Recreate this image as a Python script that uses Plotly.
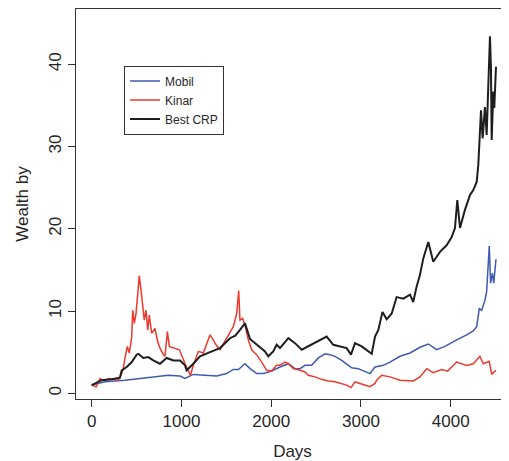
import plotly.graph_objects as go

# ---- data ----
mobil_days = [0, 148, 371, 594, 854, 984, 1040, 1132, 1355, 1392, 1504, 1578, 1635, 1708, 1764,
              1838, 1913, 2005, 2098, 2191, 2265, 2321, 2377, 2451, 2525, 2600, 2656, 2711, 2786,
              2841, 2897, 2971, 3045, 3101, 3157, 3249, 3324, 3435, 3547, 3658, 3751, 3844, 3937,
              3985, 4067, 4178, 4252, 4290, 4319, 4345, 4382, 4401, 4430, 4445, 4465, 4480, 4505]
mobil_vals = [1.0, 1.4, 1.6, 1.9, 2.2, 2.1, 1.8, 2.3, 2.1, 2.1, 2.4, 2.9, 2.9, 3.6, 3.0,
              2.4, 2.4, 2.7, 3.2, 3.6, 3.0, 3.0, 3.4, 3.4, 4.3, 4.8, 4.7, 4.5, 4.0,
              3.6, 3.1, 3.0, 2.7, 2.4, 3.2, 3.4, 3.8, 4.5, 4.9, 5.6, 6.0, 5.3, 5.7,
              6.0, 6.5, 7.1, 7.6, 8.1, 10.3, 10.1, 11.3, 12.4, 17.9, 13.4, 14.6, 13.4, 16.3]

kinar_days = [0, 50, 92, 130, 200, 297, 334, 352, 371, 397, 419, 446, 457, 475, 494, 512, 530, 549,
              568, 586, 605, 624, 642, 668, 705, 735, 761, 798, 817, 843, 865, 910, 977, 1040, 1077,
              1100, 1132, 1188, 1244, 1318, 1355, 1385, 1430, 1485, 1541, 1578, 1616, 1638, 1652,
              1682, 1708, 1745, 1783, 1838, 1894, 1950, 2005, 2060, 2097, 2154, 2191, 2247, 2321,
              2377, 2414, 2488, 2563, 2636, 2711, 2786, 2841, 2889, 2934, 2989, 3045, 3101, 3157,
              3175, 3231, 3324, 3435, 3583, 3658, 3733, 3806, 3900, 3966, 4067, 4178, 4252, 4326,
              4363, 4430, 4457, 4505]
kinar_vals = [1.0, 0.8, 1.8, 1.6, 1.8, 1.6, 2.4, 3.0, 4.3, 5.7, 4.9, 6.9, 10.1, 8.5, 9.7, 12.6, 14.3, 12.6,
              10.9, 8.9, 10.1, 7.7, 9.5, 7.3, 7.9, 6.3, 5.5, 4.7, 4.5, 7.5, 5.7, 5.5, 5.3, 3.6, 2.6,
              2.2, 3.4, 5.1, 4.9, 7.1, 6.5, 5.9, 5.3, 6.3, 7.3, 8.1, 9.7, 12.5, 8.9,
              9.1, 8.3, 6.5, 5.3, 4.7, 3.8, 2.8, 2.7, 3.4, 3.4, 3.8, 3.6, 3.0, 2.8,
              2.6, 2.2, 2.0, 1.7, 1.5, 1.4, 1.2, 1.0, 0.7, 1.4, 1.2, 1.0, 0.8, 1.2,
              1.6, 2.2, 2.0, 1.6, 1.5, 2.0, 3.0, 2.5, 2.9, 2.7, 3.8, 3.4, 3.6, 4.5,
              3.6, 3.9, 2.3, 2.8]

crp_days = [0, 111, 223, 315, 334, 390, 446, 501, 520, 575, 631, 686, 761, 835, 910, 984, 1040,
            1058, 1132, 1207, 1318, 1430, 1541, 1600, 1652, 1708, 1764, 1838, 1931, 1968, 2023,
            2061, 2098, 2191, 2265, 2340, 2414, 2488, 2544, 2618, 2692, 2767, 2841, 2889, 2934,
            3008, 3082, 3120, 3157, 3194, 3240, 3287, 3343, 3398, 3472, 3547, 3583, 3621, 3658,
            3695, 3751, 3806, 3881, 3955, 4011, 4048, 4074, 4104, 4159, 4215, 4252, 4290, 4308,
            4326, 4338, 4356, 4382, 4401, 4427, 4438, 4449, 4457, 4475, 4486, 4505]
crp_vals = [1.0, 1.6, 1.7, 1.9, 2.8, 3.2, 3.8, 4.7, 4.8, 4.3, 4.4, 4.0, 3.6, 4.3, 4.0, 4.0, 3.4,
            2.8, 3.6, 4.5, 5.0, 5.5, 6.7, 7.0, 7.7, 8.5, 6.6, 5.9, 5.1, 4.5, 5.1,
            5.9, 5.5, 6.7, 6.1, 5.3, 5.7, 6.1, 6.5, 6.9, 5.9, 5.7, 5.5, 4.7, 6.1,
            5.7, 5.1, 4.8, 6.9, 7.7, 9.9, 9.0, 9.7, 11.7, 11.5, 12.0, 11.1, 13.0, 14.4,
            16.4, 18.4, 16.0, 17.2, 18.0, 19.0, 20.1, 23.5, 20.1, 22.3, 24.1, 24.7, 25.7, 27.8,
            31.4, 34.4, 31.0, 34.8, 31.4, 38.7, 43.4, 39.5, 30.8, 36.7, 34.7, 39.7]

x_ticks = [0, 1000, 2000, 3000, 4000]
y_ticks = [0, 10, 20, 30, 40]

FONT = "Liberation Sans, Arial, Helvetica, sans-serif"
TXT = "#262626"

fig = go.Figure()
fig.add_trace(go.Scatter(x=mobil_days, y=mobil_vals, mode="lines", name="Mobil",
                         line=dict(color="#3F5BB0", width=1.5)))
fig.add_trace(go.Scatter(x=kinar_days, y=kinar_vals, mode="lines", name="Kinar",
                         line=dict(color="#EC3A2E", width=1.5)))
fig.add_trace(go.Scatter(x=crp_days, y=crp_vals, mode="lines", name="Best CRP",
                         line=dict(color="#1E1E1E", width=2.0)))

# the page body has an 8px margin, so the figure is shifted by (8, 8)
fig.update_layout(
    width=501, height=453,
    margin=dict(l=68, r=0, t=1, b=62),
    paper_bgcolor="white", plot_bgcolor="white",
    font=dict(family=FONT, size=17, color=TXT),
    showlegend=True,
    legend=dict(x=0.111, y=0.855, xanchor="left", yanchor="top",
                bordercolor="#333333", borderwidth=1, bgcolor="white",
                font=dict(size=12, color=TXT), tracegroupgap=0,
                entrywidth=86, entrywidthmode="pixels"),
)
fig.update_xaxes(
    range=[-175, 4650], tickvals=x_ticks, ticktext=[str(v) for v in x_ticks],
    showgrid=False, zeroline=False, showline=True, linecolor="#333333", linewidth=1,
    mirror=True, ticks="outside", ticklen=7, tickcolor="#333333",
    title=dict(text="Days", font=dict(size=17), standoff=14),
)
fig.update_yaxes(
    range=[-0.69, 46.72], tickvals=y_ticks, ticktext=[str(v) for v in y_ticks],
    showgrid=False, zeroline=False, showline=True, linecolor="#333333", linewidth=1,
    mirror=True, ticks="outside", ticklen=7, tickcolor="#333333", tickangle=-90,
    title=dict(text="Wealth by", font=dict(size=17), standoff=13),
)

fig.write_html("out.html")
